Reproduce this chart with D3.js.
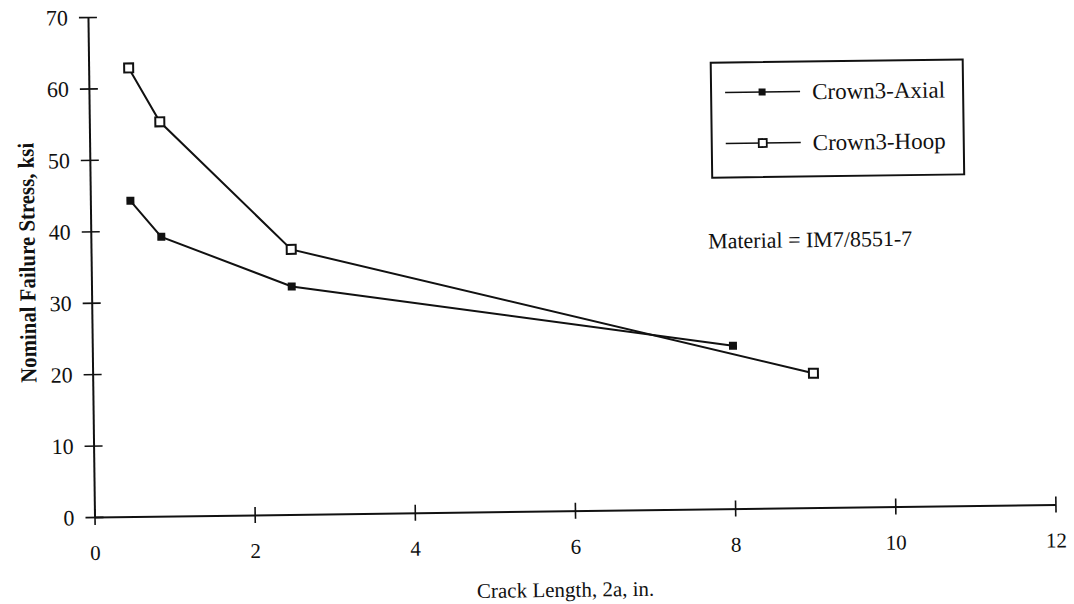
<!DOCTYPE html>
<html><head><meta charset="utf-8">
<script src="https://cdn.jsdelivr.net/npm/d3@7/dist/d3.min.js"></script>
<style>
html,body{margin:0;padding:0;background:#fff;}
svg text{font-family:"Liberation Serif","Times New Roman",serif;fill:#111;}
</style></head>
<body>
<svg id="chart" width="1074" height="604"></svg>
<script>
const seriesNames = ["Crown3-Axial", "Crown3-Hoop"];
const axialX = [0.5, 0.88, 2.5, 8.0];
const axialY = [44.2, 39.1, 31.9, 22.8];
const hoopX = [0.5, 0.88, 2.5, 9.0];
const hoopY = [62.8, 55.2, 37.1, 18.8];
const xTicks = [0, 2, 4, 6, 8, 10, 12];
const yTicks = [0, 10, 20, 30, 40, 50, 60, 70];
const xTitle = "Crack Length, 2a, in.";
const yTitle = "Nominal Failure Stress, ksi";
const note = "Material = IM7/8551-7";

const ox = 94.5, oy = 517, W = 961, H = 500;
const svg = d3.select("#chart");
const root = svg.append("g").attr("transform", `rotate(-0.75,${ox},${oy})`);
const g = root.append("g").attr("transform", `translate(${ox},${oy - H})`);

const x = d3.scaleLinear().domain([0, 12]).range([0, W]);
const y = d3.scaleLinear().domain([0, 70]).range([H, 0]);
const ink = "#111";

// X axis
const xa = g.append("g").attr("transform", `translate(0,${H})`)
  .call(d3.axisBottom(x).tickValues(xTicks).tickSizeOuter(0).tickFormat(d3.format("d")));
xa.select(".domain").attr("stroke", ink).attr("stroke-width", 2);
xa.selectAll(".tick line").attr("y1", -8).attr("y2", 8).attr("stroke", ink).attr("stroke-width", 1.6);
xa.selectAll(".tick text").attr("y", 43).attr("dy", null).attr("font-size", 21)
  .style("font-family", '"Liberation Serif",serif').attr("fill", ink);

// Y axis
const ya = g.append("g")
  .call(d3.axisLeft(y).tickValues(yTicks).tickSizeOuter(0).tickFormat(d3.format("d")));
ya.select(".domain").attr("stroke", ink).attr("stroke-width", 2);
ya.selectAll(".tick line").attr("x1", -9).attr("x2", 9).attr("stroke", ink).attr("stroke-width", 1.6);
ya.selectAll(".tick text").attr("x", -20).attr("dy", "0.34em").attr("font-size", 22)
  .style("font-family", '"Liberation Serif",serif').attr("fill", ink);

// Titles
g.append("text").attr("x", x(5.87)).attr("y", H + 86).attr("text-anchor", "middle")
  .attr("font-size", 21).text(xTitle);
g.append("text").attr("transform", `translate(${30.3 - ox + 8},${262 - (oy - H)}) rotate(-90)`)
  .attr("text-anchor", "middle").attr("font-size", 23).attr("font-weight", "bold")
  .attr("textLength", 240).attr("lengthAdjust", "spacingAndGlyphs").text(yTitle);

// Lines
const line = d3.line().x(d => x(d[0])).y(d => y(d[1]));
const axial = axialX.map((v, i) => [v, axialY[i]]);
const hoop = hoopX.map((v, i) => [v, hoopY[i]]);
g.append("path").datum(axial).attr("d", line).attr("fill", "none").attr("stroke", ink).attr("stroke-width", 2);
g.append("path").datum(hoop).attr("d", line).attr("fill", "none").attr("stroke", ink).attr("stroke-width", 2);
g.selectAll(".ma").data(axial).join("rect").attr("class", "ma")
  .attr("x", d => x(d[0]) - 4).attr("y", d => y(d[1]) - 4).attr("width", 8).attr("height", 8).attr("fill", ink);
g.selectAll(".mh").data(hoop).join("rect").attr("class", "mh")
  .attr("x", d => x(d[0]) - 4.5).attr("y", d => y(d[1]) - 4.5).attr("width", 9).attr("height", 9)
  .attr("fill", "#fff").attr("stroke", ink).attr("stroke-width", 2);

// Legend
const lx = 716.6 - ox, ly = 70.8 - (oy - H);
const leg = g.append("g").attr("transform", `translate(${lx},${ly})`);
leg.append("rect").attr("width", 252).attr("height", 115).attr("fill", "#fff").attr("stroke", ink).attr("stroke-width", 2);
const rows = [30, 81];
seriesNames.forEach((name, i) => {
  const ry = rows[i];
  leg.append("line").attr("x1", 14).attr("x2", 89).attr("y1", ry).attr("y2", ry).attr("stroke", ink).attr("stroke-width", 1.6);
  if (i === 0) {
    leg.append("rect").attr("x", 51 - 3.5).attr("y", ry - 3.5).attr("width", 7).attr("height", 7).attr("fill", ink);
  } else {
    leg.append("rect").attr("x", 51 - 4).attr("y", ry - 4).attr("width", 8).attr("height", 8)
      .attr("fill", "#fff").attr("stroke", ink).attr("stroke-width", 1.8);
  }
  leg.append("text").attr("x", 101).attr("y", ry).attr("dy", "0.34em").attr("font-size", 23).text(name);
});

// Note
g.append("text").attr("x", 711.6 - ox).attr("y", 249 - (oy - H)).attr("dy", "0.34em")
  .attr("font-size", 22).text(note);
</script>
</body></html>
